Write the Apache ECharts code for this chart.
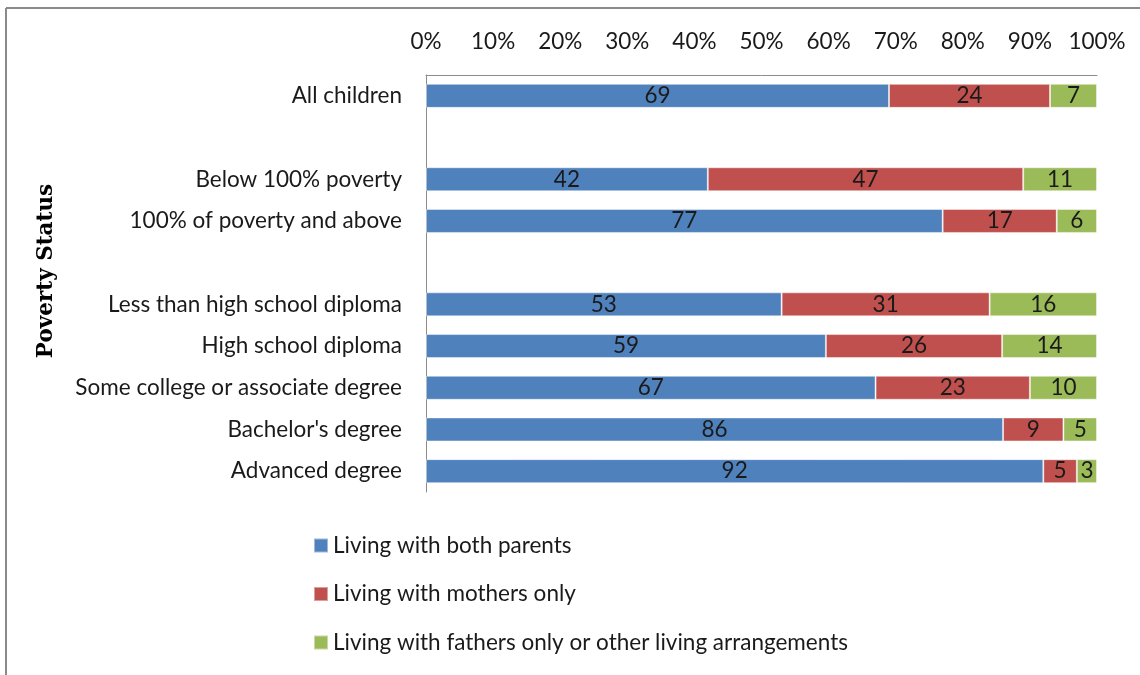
<!DOCTYPE html>
<html>
<head>
<meta charset="utf-8">
<script src="https://cdn.jsdelivr.net/npm/echarts@6/dist/echarts.min.js"></script>
<style>
html,body{margin:0;padding:0;background:#fff;}
#chart{width:1140px;height:675px;}
</style>
</head>
<body>
<div id="chart"></div>
<script>
const categories = ['All children', ' ', 'Below 100% poverty', '100% of poverty and above', '  ',
  'Less than high school diploma', 'High school diploma', 'Some college or associate degree',
  "Bachelor's degree", 'Advanced degree'];
const bothParents = [69, null, 42, 77, null, 53, 59, 67, 86, 92];
const mothersOnly = [24, null, 47, 17, null, 31, 26, 23, 9, 5];
const fathersOther = [7, null, 11, 6, null, 16, 14, 10, 5, 3];
const seriesNames = ['Living with both parents', 'Living with mothers only',
  'Living with fathers only or other living arrangements'];
const xTicks = ['0%','10%','20%','30%','40%','50%','60%','70%','80%','90%','100%'];
const colors = ['#4F81BD', '#C0504D', '#9BBB59'];

const raw = [bothParents, mothersOnly, fathersOther];
const totals = categories.map((c, i) => raw.reduce((s, a) => s + (a[i] || 0), 0));
const font = 'Lato, "Open Sans", sans-serif';
const fs = 22.5;

const series = raw.map((arr, k) => ({
  name: seriesNames[k],
  type: 'bar',
  stack: 'total',
  barWidth: 24,
  itemStyle: { color: colors[k], borderColor: 'rgba(255,255,255,0.45)', borderWidth: 1 },
  label: {
    show: true, position: 'inside', color: '#1a1a1a', fontSize: fs, fontFamily: font,
    formatter: p => p.data.raw
  },
  data: arr.map((v, i) => v == null ? null : { value: v / totals[i] * 100, raw: v })
}));

const chart = echarts.init(document.getElementById('chart'));
chart.setOption({
  animation: false,
  backgroundColor: '#fff',
  grid: { left: 426, right: 43, top: 75, height: 417 },
  xAxis: {
    type: 'value', position: 'top', min: 0, max: 100, interval: 10,
    axisLine: { show: true, lineStyle: { color: '#8c8c8c', width: 1 } },
    axisTick: { show: false },
    splitLine: { show: false },
    axisLabel: {
      color: '#1a1a1a', fontSize: fs, fontFamily: font, margin: 22,
      formatter: v => xTicks[Math.round(v / 10)]
    }
  },
  yAxis: {
    type: 'category', inverse: true, data: categories,
    axisLine: { show: true, lineStyle: { color: '#8c8c8c', width: 1 } },
    axisTick: { show: false },
    axisLabel: { color: '#1a1a1a', fontSize: fs, fontFamily: font, margin: 24 }
  },
  legend: {
    orient: 'vertical', left: 308, top: 529, itemWidth: 14, itemHeight: 14, itemGap: 25.5,
    icon: 'rect',
    textStyle: { color: '#1a1a1a', fontSize: fs, fontFamily: font },
    data: seriesNames
  },
  graphic: [
    { type: 'line', shape: { x1: 6, y1: 8, x2: 1140, y2: 8 }, style: { stroke: '#8a8a8a', lineWidth: 2 } },
    { type: 'line', shape: { x1: 6, y1: 8, x2: 6, y2: 675 }, style: { stroke: '#8a8a8a', lineWidth: 2 } },
    { type: 'text', x: 46, y: 271, rotation: Math.PI / 2,
      style: { text: 'Poverty Status', font: 'bold 21.5px "DejaVu Serif", serif', fill: '#000',
        textAlign: 'center', textVerticalAlign: 'middle' } }
  ],
  series: series
});
</script>
</body>
</html>
